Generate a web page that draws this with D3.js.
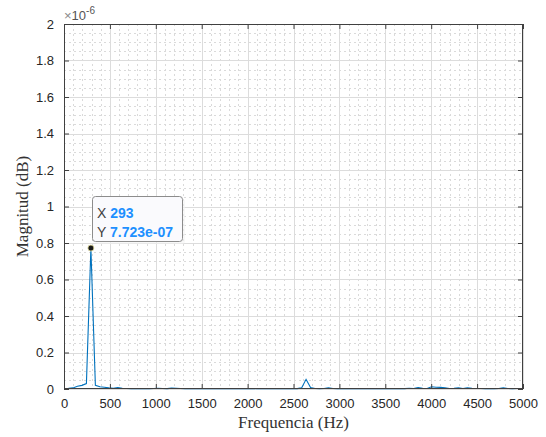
<!DOCTYPE html>
<html><head><meta charset="utf-8">
<script src="https://cdn.jsdelivr.net/npm/d3@7"></script>
<style>body{margin:0;background:#fff;} svg{display:block;}</style>
</head><body>
<svg id="c" width="546" height="437"></svg>
<script>
// FFT bin spacing (Hz) and magnitudes (×1e-6)
const binHz = 48.83;
const magnitudes = [
 0.003,0.004,0.006,0.015,0.020,0.030,0.7723,0.020,0.012,0.010,
 0.006,0.004,0.008,0.004,0.003,0.002,0.003,0.002,0.003,0.002,
 0.003,0.004,0.003,0.002,0.005,0.004,0.003,0.002,0.003,0.002,
 0.002,0.003,0.002,0.003,0.002,0.002,0.003,0.002,0.002,0.003,
 0.002,0.002,0.003,0.002,0.002,0.003,0.002,0.002,0.003,0.002,
 0.002,0.003,0.002,0.006,0.053,0.008,0.003,0.002,0.003,0.006,
 0.003,0.002,0.002,0.003,0.002,0.002,0.003,0.002,0.002,0.003,
 0.002,0.002,0.003,0.002,0.002,0.003,0.002,0.004,0.003,0.008,
 0.004,0.003,0.012,0.010,0.009,0.006,0.003,0.004,0.006,0.003,
 0.006,0.004,0.003,0.003,0.002,0.003,0.002,0.003,0.006,0.003,
 0.002,0.003,0.003
];
const xTicks = [0,500,1000,1500,2000,2500,3000,3500,4000,4500,5000];
const yTicks = [0,0.2,0.4,0.6,0.8,1,1.2,1.4,1.6,1.8,2];
const xMinor = d3.range(0,5001,100);
const yMinor = d3.range(0,2.0001,0.05);
const tipX = 293, tipY = 0.7723;
const tipLabels = ["X", "Y"];
const tipValues = ["293", "7.723e-07"];

const data = magnitudes.map((m,i)=>({f:i*binHz, m}));

const L=64,R=523,T=24,B=389;
const x = d3.scaleLinear().domain([0,5000]).range([L,R]);
const y = d3.scaleLinear().domain([0,2]).range([B,T]);
const svg = d3.select("#c");
const font = "Helvetica, Arial, 'Liberation Sans', sans-serif";

// minor grid
const g = svg.append("g");
g.selectAll(".mx").data(xMinor.filter(v=>v%500!==0)).join("line")
 .attr("x1",d=>Math.round(x(d))+0.5).attr("x2",d=>Math.round(x(d))+0.5).attr("y1",T).attr("y2",B)
 .attr("stroke","#dadada").attr("stroke-width",1).attr("stroke-dasharray","2,3");
g.selectAll(".my").data(yMinor.filter((v,i)=>i%4!==0)).join("line")
 .attr("y1",d=>Math.round(y(d))+0.5).attr("y2",d=>Math.round(y(d))+0.5).attr("x1",L).attr("x2",R)
 .attr("stroke","#dadada").attr("stroke-width",1).attr("stroke-dasharray","2,3");
// major grid
g.selectAll(".gx").data(xTicks).join("line")
 .attr("x1",d=>Math.round(x(d))+0.5).attr("x2",d=>Math.round(x(d))+0.5).attr("y1",T).attr("y2",B)
 .attr("stroke","#dcdcdc").attr("stroke-width",1);
g.selectAll(".gy").data(yTicks).join("line")
 .attr("y1",d=>Math.round(y(d))+0.5).attr("y2",d=>Math.round(y(d))+0.5).attr("x1",L).attr("x2",R)
 .attr("stroke","#dcdcdc").attr("stroke-width",1);

// data line
svg.append("path").datum(data)
 .attr("d", d3.line().x(d=>x(d.f)).y(d=>y(d.m)))
 .attr("fill","none").attr("stroke","#0072BD").attr("stroke-width",1.1);

// axes with inward ticks
const axCol = "#404040";
const fmt = d=>String(d);
function styleAxis(sel){
  sel.select(".domain").remove();
  sel.selectAll(".tick line").attr("stroke",axCol);
  sel.selectAll(".tick text").attr("fill","#262626").style("font-family",font).style("font-size","13px");
}
svg.append("g").attr("transform",`translate(0,${B})`)
 .call(d3.axisBottom(x).tickValues(xTicks).tickFormat(fmt).tickSizeInner(-5).tickSizeOuter(0).tickPadding(10))
 .call(styleAxis);
svg.append("g").attr("transform",`translate(0,${T})`)
 .call(d3.axisTop(x).tickValues(xTicks).tickFormat("").tickSizeInner(-5).tickSizeOuter(0))
 .call(styleAxis);
svg.append("g").attr("transform",`translate(${L},0)`)
 .call(d3.axisLeft(y).tickValues(yTicks).tickFormat(fmt).tickSizeInner(-5).tickSizeOuter(0).tickPadding(10))
 .call(styleAxis);
svg.append("g").attr("transform",`translate(${R},0)`)
 .call(d3.axisRight(y).tickValues(yTicks).tickFormat("").tickSizeInner(-5).tickSizeOuter(0))
 .call(styleAxis);
svg.append("rect").attr("x",L+0.5).attr("y",T+0.5).attr("width",R-L-1).attr("height",B-T-1)
 .attr("fill","none").attr("stroke",axCol).attr("stroke-width",1);

// exponent
const ex = svg.append("text").attr("x",L).attr("y",20).attr("fill","#555")
 .style("font-family",font).style("font-size","13px");
ex.append("tspan").text("×").attr("fill","#888");
ex.append("tspan").text("10");
ex.append("tspan").text("-6").attr("dy",-6).style("font-size","10px");

// axis titles
const serif = "'Liberation Serif','DejaVu Serif',serif";
svg.append("text").attr("x",(L+R)/2).attr("y",428).attr("text-anchor","middle")
 .attr("fill","#333").style("font-family",serif).style("font-size","17px").text("Frequencia (Hz)");
svg.append("text").attr("transform",`translate(28,${(T+B)/2}) rotate(-90)`).attr("text-anchor","middle")
 .attr("fill","#333").style("font-family",serif).style("font-size","17px").text("Magnitud (dB)");

// datatip
const px = x(tipX), py = y(tipY);
svg.append("rect").attr("x",93.5).attr("y",197.5).attr("width",90).attr("height",45).attr("rx",3)
 .attr("fill","#f3f3f3").attr("opacity",0.6).attr("transform","translate(1.5,1.5)");
svg.append("rect").attr("x",92.5).attr("y",196.5).attr("width",90).attr("height",45).attr("rx",3)
 .attr("fill","#fafafd").attr("stroke","#8c8c8c").attr("stroke-width",1);
tipLabels.forEach((lab,i)=>{
  const t = svg.append("text").attr("x",97).attr("y",218+i*19)
   .style("font-family",font).style("font-size","14px");
  t.append("tspan").text(lab+" ").attr("fill","#404040");
  t.append("tspan").text(tipValues[i]).attr("fill","#1e90ff").style("font-weight","bold");
});
svg.append("circle").attr("cx",px).attr("cy",py).attr("r",3)
 .attr("fill","#1a1a1a").attr("stroke","#e8e2a0").attr("stroke-width",0.8);
</script>
</body></html>
